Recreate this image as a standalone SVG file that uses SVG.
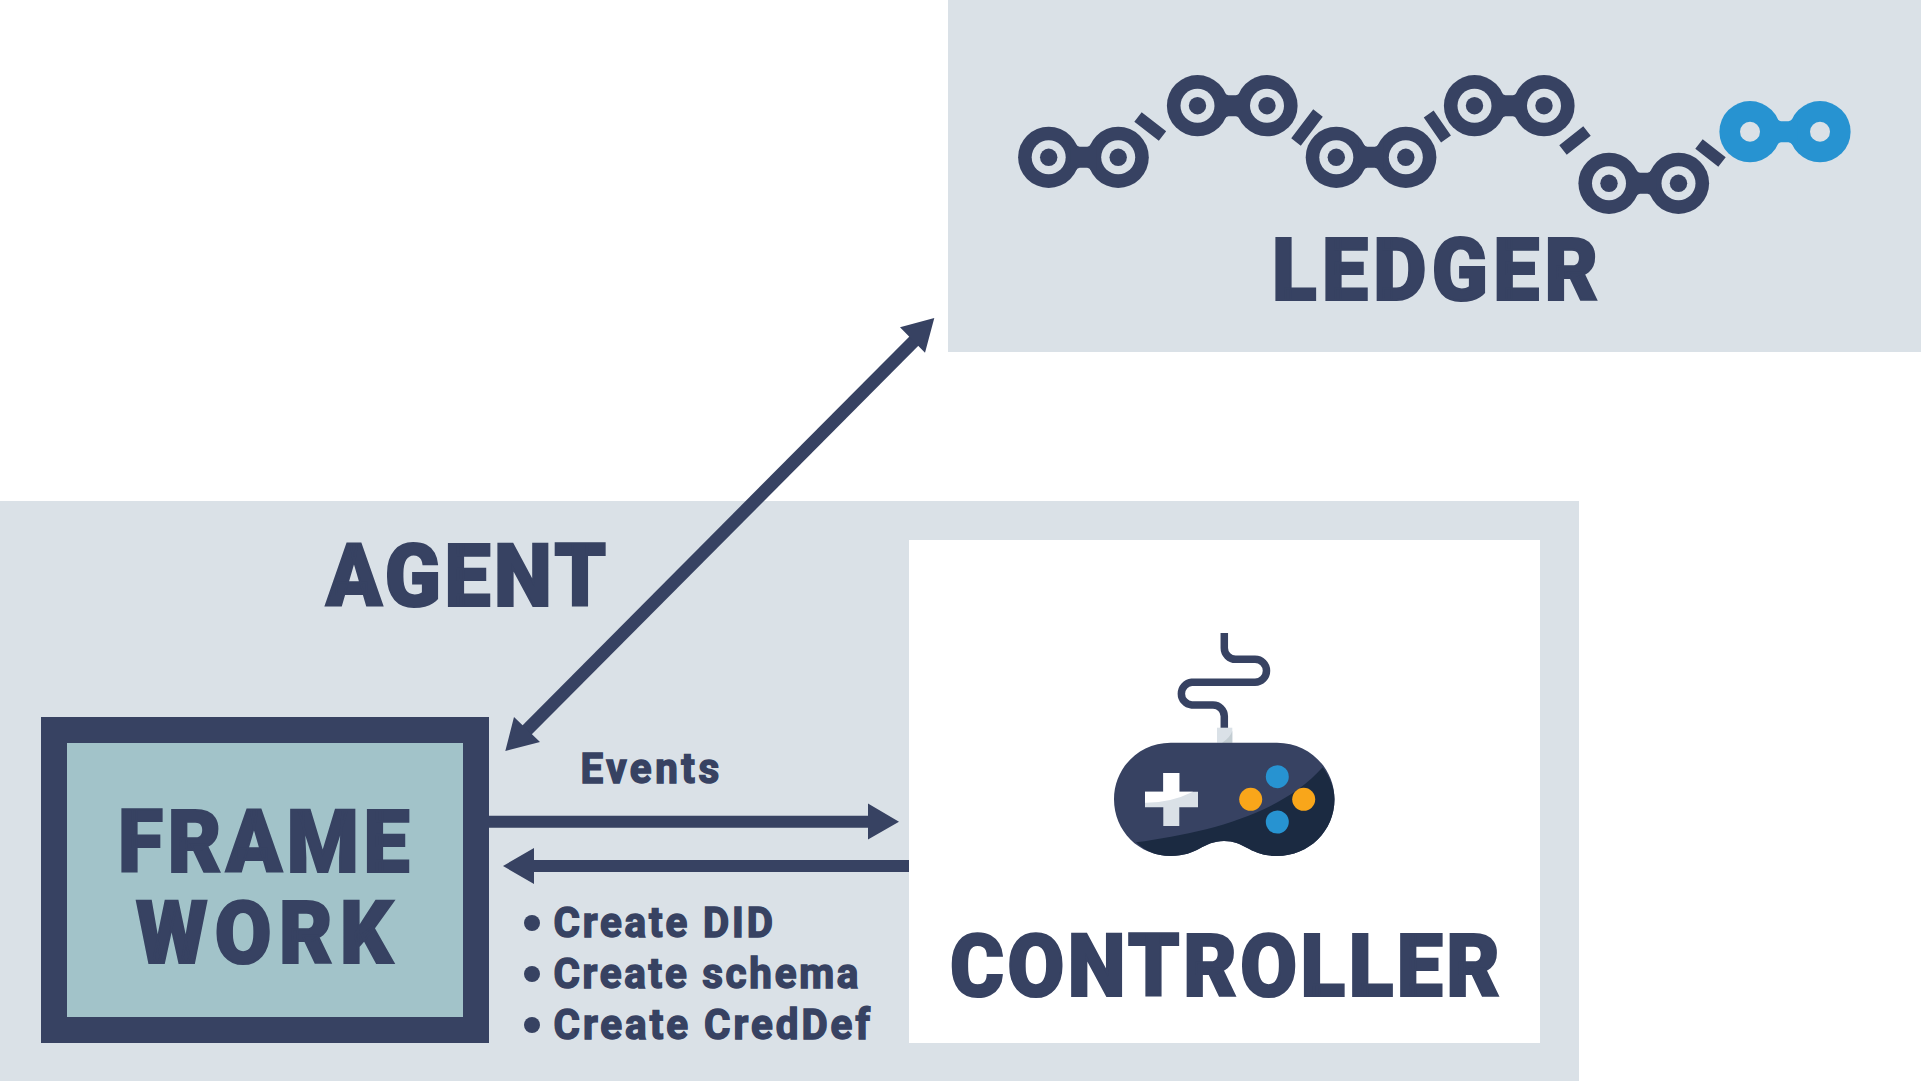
<svg xmlns="http://www.w3.org/2000/svg" width="1921" height="1081" viewBox="0 0 1921 1081">
<defs>
<style>
.bg{fill:#dae1e7}
.d{fill:#374262}
.t{font-family:"Roboto","Liberation Sans",sans-serif;font-weight:900;fill:#374262;stroke:#374262;stroke-linejoin:miter}
.big{font-size:87.5px;stroke-width:2.2px}
.sm{font-size:42.5px;font-weight:700;stroke-width:1.5px}
.line{stroke:#374262;stroke-width:12;fill:none}
.dash{stroke:#374262;stroke-width:12;fill:none}
</style>
<path id="neck" d="M22,-20Q27,-11 31,-10.5H38.5Q42.5,-11 47.5,-20V20Q42.5,11 38.5,10.5H31Q27,11 22,20Z"/>
<g id="lk"><circle cx="0" cy="0" r="30.6" class="d"/><circle cx="69.5" cy="0" r="30.6" class="d"/><use href="#neck" class="d"/><circle cx="0" cy="0" r="17" class="bg"/><circle cx="69.5" cy="0" r="17" class="bg"/><circle cx="0" cy="0" r="8.7" class="d"/><circle cx="69.5" cy="0" r="8.7" class="d"/></g>
</defs>
<rect width="1921" height="1081" fill="#fff"/>
<g id="ledger">
<rect class="bg" x="948" y="0" width="973" height="352"/>
<use href="#lk" x="1048.7" y="157.3"/>
<use href="#lk" x="1197.5" y="105.7"/>
<use href="#lk" x="1336.3" y="157.3"/>
<use href="#lk" x="1474.5" y="105.7"/>
<use href="#lk" x="1609" y="183.3"/>
<g fill="#2793d1"><circle cx="1750" cy="131.7" r="30.6"/><circle cx="1820" cy="131.7" r="30.6"/><use href="#neck" x="1750" y="131.7"/></g>
<circle class="bg" cx="1750" cy="131.7" r="10"/><circle class="bg" cx="1820" cy="131.7" r="10"/>
<path class="dash" d="M1138,117L1162.5,136M1318,113L1296,142M1428.7,114L1446,139M1587,131L1563,150M1699,144L1722,162"/>
<text class="t big" transform="translate(1272,300) scale(.94,1)" textLength="347" lengthAdjust="spacing">LEDGER</text>
</g>
<g id="agent">
<rect class="bg" x="0" y="501" width="1579" height="580"/>
<text class="t big" transform="translate(326,605.5) scale(.94,1)" textLength="298" lengthAdjust="spacing">AGENT</text>
</g>
<g id="controller">
<rect x="909" y="540" width="631" height="503" fill="#fff"/>
<path d="M1224.3,633V648A11.3,11.3 0 0 0 1235.6,659.3H1255A11.5,11.5 0 0 1 1255,682.3H1191.7A11.4,11.4 0 0 0 1191.7,705H1213A11.3,11.3 0 0 1 1224.3,716.3V728" fill="none" stroke="#374262" stroke-width="7.5"/>
<rect x="1217" y="727.7" width="15.3" height="15" fill="#dae1e7"/>
<path d="M1232.3,731Q1230,738 1222,742.7H1232.3Z" fill="#c3cdd2"/>
<path class="d" d="M1170.7,742.7H1277C1309,742.7 1334.5,768 1334.5,799.3C1334.5,831 1309,856 1277,856C1250,856 1245,841 1224,841C1203,841 1198,856 1170.7,856C1139,856 1114,831 1114,799.3C1114,768 1139,742.7 1170.7,742.7Z"/>
<path fill="#1b2a41" d="M1136,842.3C1205,833 1280,815 1322.7,767.3C1329,776 1334.5,787 1334.5,799.3C1334.5,831 1309,856 1277,856C1250,856 1245,841 1224,841C1203,841 1198,856 1170.7,856C1156,856 1145,851 1136,842.3Z"/>
<path fill="#dae1e7" d="M1163.3,773H1179.3V791.7H1198V807.3H1179.3V826H1163.3V807.3H1145V791.7H1163.3Z"/>
<path fill="#fff" d="M1163.3,773H1179.3V791.7H1193Q1170,803 1145,802.7V791.7H1163.3Z"/>
<circle cx="1277.3" cy="776.7" r="11.5" fill="#2793d1"/><circle cx="1277.3" cy="822" r="11.5" fill="#2793d1"/>
<circle cx="1250.7" cy="799.3" r="11.5" fill="#f9a61a"/><circle cx="1303.7" cy="799.3" r="11.5" fill="#f9a61a"/>
<text class="t big" transform="translate(950,995.5) scale(.94,1)" textLength="585" lengthAdjust="spacing">CONTROLLER</text>
</g>
<g id="framework">
<rect x="54" y="730" width="422" height="300" fill="#a2c3c9" stroke="#374262" stroke-width="26"/>
<text class="t big" transform="translate(118,871.5) scale(.94,1)" textLength="310" lengthAdjust="spacing">FRAME</text>
<text class="t big" transform="translate(136,962.5) scale(.94,1)" textLength="273" lengthAdjust="spacing">WORK</text>
</g>
<g id="connectors">
<path class="line" d="M489,821.7H870M909,866H532"/>
<path class="line" style="stroke-width:13" d="M523,734L918,337"/>
<path class="d" d="M868,803.5L899,821.7L868,839.5ZM534,848L503,866L534,884ZM505.3,751L514,717L540,742ZM934.3,318L900,327.3L925,352.7Z"/>
</g>
<g id="labels">
<text class="t sm" transform="translate(580.5,782.5) scale(.95,1)" textLength="146" lengthAdjust="spacing">Events</text>
<circle class="d" cx="532" cy="923" r="8"/><circle class="d" cx="532" cy="974" r="8"/><circle class="d" cx="532" cy="1025" r="8"/>
<text class="t sm" transform="translate(553.5,936.5) scale(.95,1)" textLength="231" lengthAdjust="spacing">Create DID</text>
<text class="t sm" transform="translate(553.5,987.5) scale(.95,1)" textLength="321" lengthAdjust="spacing">Create schema</text>
<text class="t sm" transform="translate(553.5,1038.5) scale(.95,1)" textLength="333" lengthAdjust="spacing">Create CredDef</text>
</g>
</svg>
